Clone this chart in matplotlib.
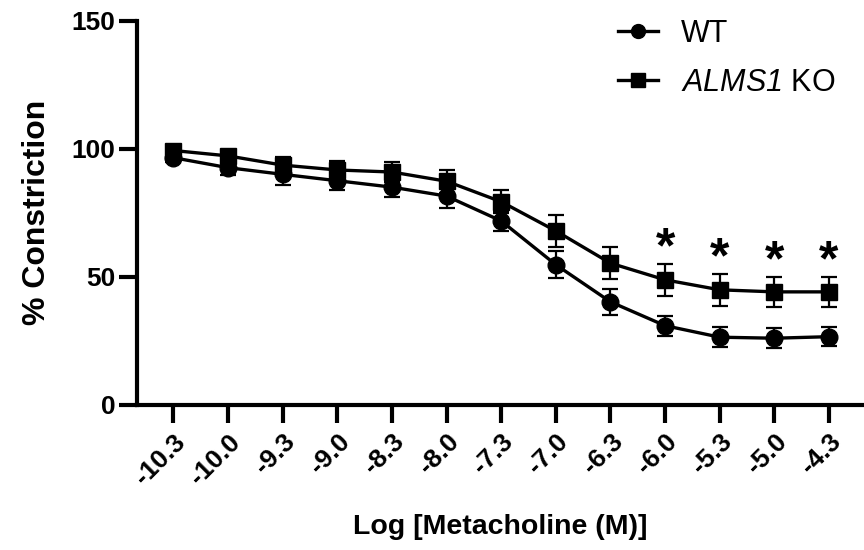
import numpy as np
import matplotlib
matplotlib.use("Agg")
import matplotlib.pyplot as plt
from matplotlib.lines import Line2D

plt.rcParams["font.family"] = ["Liberation Sans", "DejaVu Sans"]
# cały tekst matematyczny kursywą (nazwa genu)
plt.rcParams["mathtext.fontset"] = "custom"
plt.rcParams["mathtext.rm"] = "Liberation Sans:italic"
plt.rcParams["mathtext.it"] = "Liberation Sans:italic"

# --- dane ---
doses = ["-10.3", "-10.0", "-9.3", "-9.0", "-8.3", "-8.0", "-7.3",
         "-7.0", "-6.3", "-6.0", "-5.3", "-5.0", "-4.3"]
wt = [96.5, 92.6, 90.0, 87.5, 85.0, 81.5, 71.8, 54.7, 40.2, 30.9, 26.4, 26.0, 26.6]
wt_sem = [1.5, 3.0, 4.0, 3.5, 4.0, 4.5, 4.0, 5.2, 5.2, 3.9, 3.9, 3.8, 3.8]
ko = [99.3, 97.2, 93.6, 91.7, 90.9, 87.3, 79.3, 67.9, 55.3, 48.8, 44.9, 44.1, 44.1]
ko_sem = [1.5, 2.0, 3.0, 3.5, 4.0, 4.5, 4.5, 6.2, 6.2, 6.3, 6.2, 6.0, 5.9]
signif = [False] * 9 + [True] * 4

x = np.arange(len(doses))

fig = plt.figure(figsize=(8.64, 5.5), dpi=100)
ax = fig.add_axes([0.1590, 0.2640, 0.8410, 0.6984])

lw = 2.4
ax.errorbar(x, wt, yerr=wt_sem, color="black", lw=lw, marker="o", ms=12,
            elinewidth=1.6, capsize=5.8, capthick=1.6, zorder=3)
ax.errorbar(x, ko, yerr=ko_sem, color="black", lw=lw, marker="s", ms=11.2,
            elinewidth=1.6, capsize=5.8, capthick=1.6, zorder=3)

# gwiazdki istotności
for xi, m, s, sig in zip(x, ko, ko_sem, signif):
    if sig:
        ax.text(xi, m + s + 0.5, "*", ha="center", va="baseline",
                fontsize=36, fontweight="bold")

ax.set_xlim(-0.658, 12.64)
ax.set_ylim(0, 150)
ax.set_yticks([0, 50, 100, 150])
ax.set_xticks(x)
ax.set_xticklabels(doses, rotation=45, ha="right", rotation_mode="anchor")

for lab in ax.get_xticklabels() + ax.get_yticklabels():
    lab.set_fontweight("bold")
ax.tick_params(axis="x", labelsize=19, length=13, width=3, pad=5)
ax.tick_params(axis="y", labelsize=19, length=13, width=3, pad=3)

ax.spines["top"].set_visible(False)
ax.spines["right"].set_visible(False)
ax.spines["left"].set_linewidth(3)
ax.spines["bottom"].set_linewidth(3)

ax.set_xlabel("Log [Metacholine (M)]", fontsize=20.5, fontweight="bold", labelpad=18)
ax.set_ylabel("% Constriction", fontsize=23, fontweight="bold", labelpad=14)

# legenda bez wąsów błędu
handles = [Line2D([], [], color="black", lw=lw, marker="o", ms=10),
           Line2D([], [], color="black", lw=lw, marker="s", ms=9.5)]
labels = ["WT", r"$ALMS1$ KO"]
ax.legend(handles, labels, loc="upper left",
          bbox_to_anchor=(618 / 864, 1 - 19 / 550),
          bbox_transform=fig.transFigure, frameon=False, fontsize=22,
          handlelength=1.3, handletextpad=0.75, labelspacing=0.62,
          borderpad=0, borderaxespad=0)

fig.savefig("out.png", dpi=100)
